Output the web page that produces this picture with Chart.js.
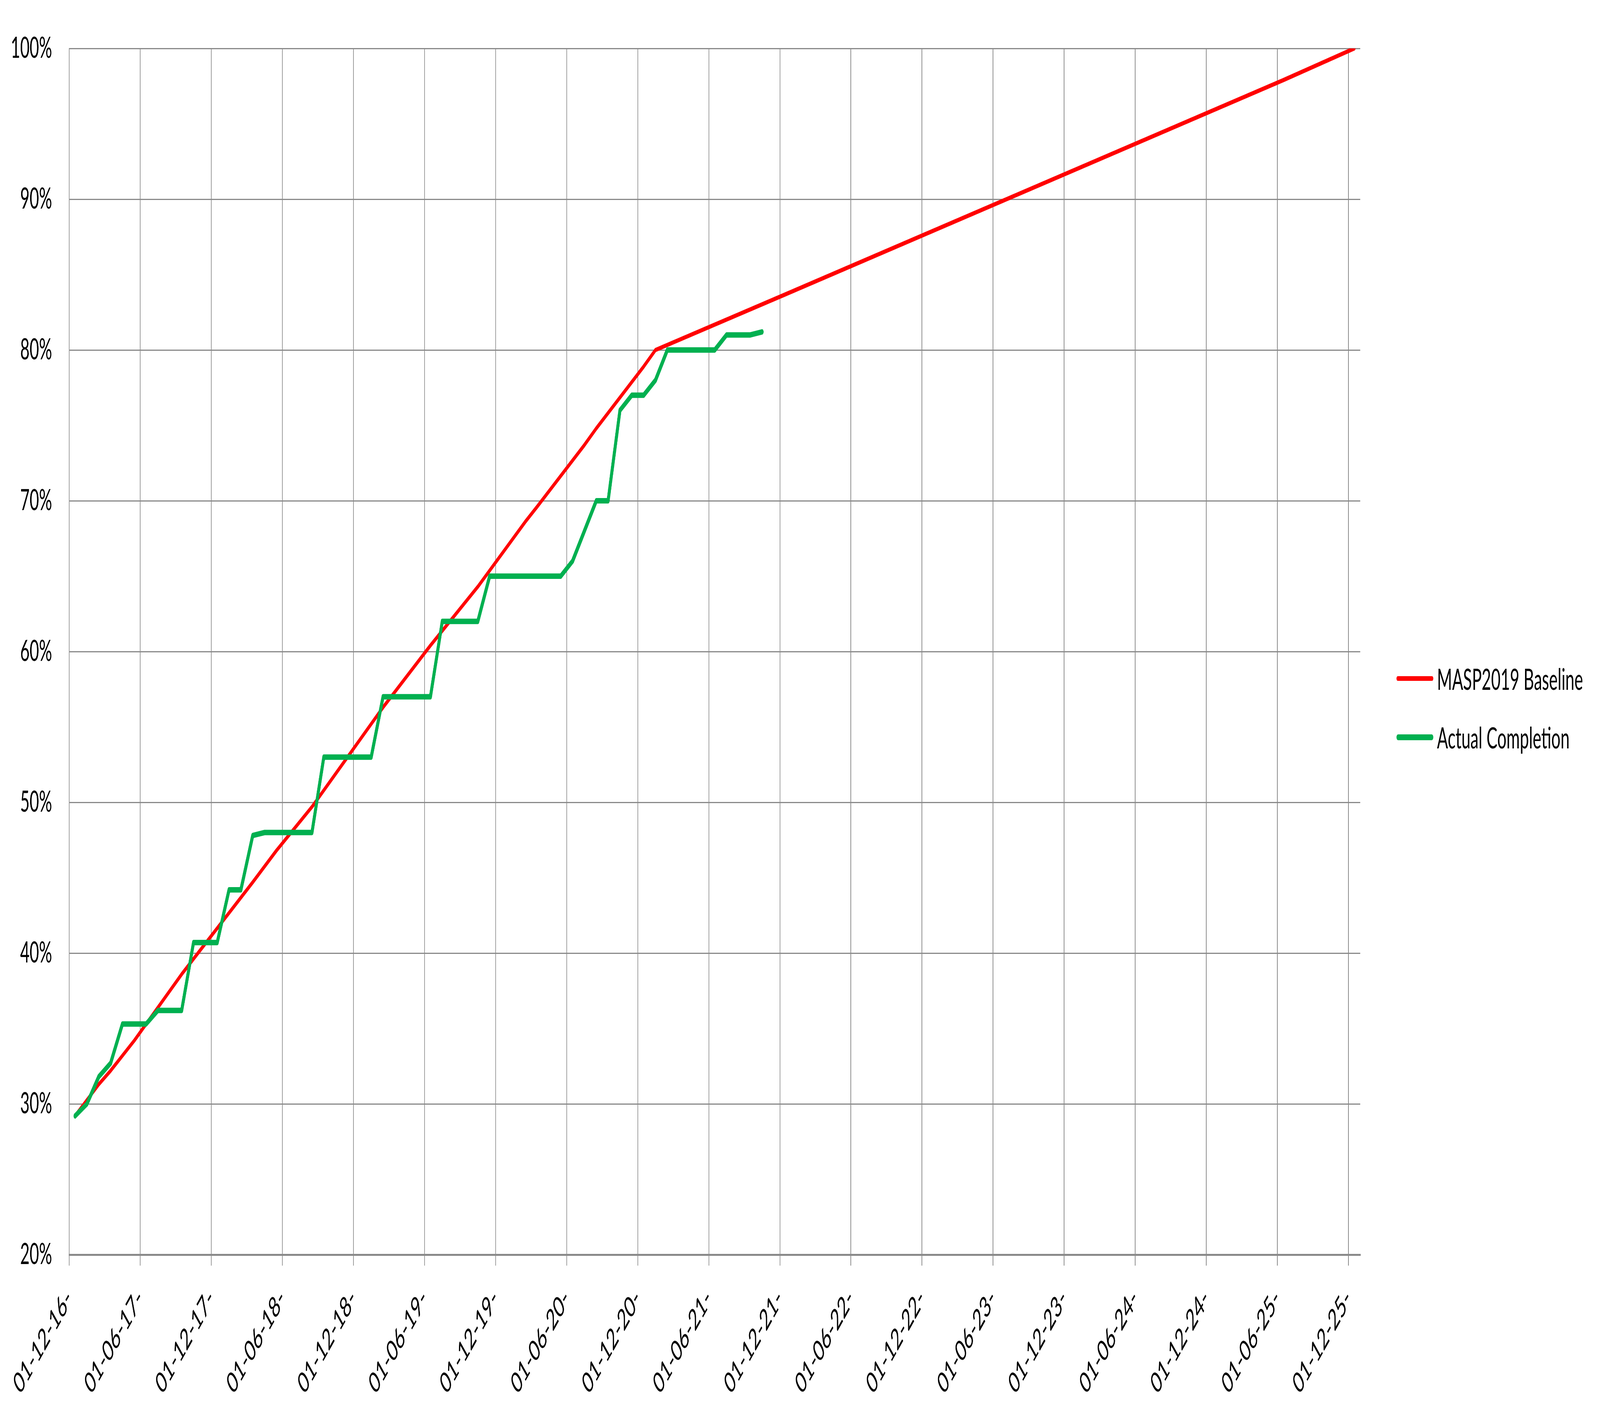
<!DOCTYPE html>
<html>
<head>
<meta charset="utf-8">
<title>MASP2019 Baseline vs Actual Completion</title>
<script src="https://cdn.jsdelivr.net/npm/chart.js"></script>
<style>
  html, body { margin: 0; padding: 0; background: #fff; overflow: hidden; }
  #wrap { position: absolute; left: 0; top: 0; width: 7382px; height: 3625px; transform-origin: 0 0; background: #fff; }
  #legend { position: absolute; left: 6443px; top: 1662px; font-family: Lato, sans-serif; font-size: 75px; color: #000; }
  #legend .item { display: flex; align-items: center; height: 150px; white-space: nowrap; }
  #legend .swatch { display: inline-block; width: 170px; margin-right: 17px; border-radius: 8px; }
</style>
</head>
<body>
<div id="wrap">
  <canvas id="chart"></canvas>
  <div id="legend"></div>
</div>
<script>
// x is counted in months from 01-12-16 (0 = Dec 2016)
const xTickLabels = ["01-12-16-", "01-06-17-", "01-12-17-", "01-06-18-", "01-12-18-", "01-06-19-",
  "01-12-19-", "01-06-20-", "01-12-20-", "01-06-21-", "01-12-21-", "01-06-22-", "01-12-22-",
  "01-06-23-", "01-12-23-", "01-06-24-", "01-12-24-", "01-06-25-", "01-12-25-"];

// MASP2019 baseline (month, %)
const baselineMonths = [0.5, 2.5, 3.5, 5.5, 9.5, 15.5, 17.5, 20.5, 26.5, 30.5, 34.5, 38.5, 39.5,
  43.5, 44.5, 48.5, 49.5, 60.5, 102.5, 108.5];
const baselineValues = [29.2, 31.3, 32.2, 34.2, 38.6, 44.7, 46.8, 49.7, 56.3, 60.4, 64.3, 68.6, 69.6,
  73.7, 74.8, 78.9, 80.0, 83.7, 97.9, 100.0];

// actual completion, one reading per month from Dec 2016, plotted mid-month
const actualValues = [29.2, 30.0, 31.8, 32.7, 35.3, 35.3, 35.3, 36.2, 36.2, 36.2, 40.7, 40.7, 40.7,
  44.2, 44.2, 47.8, 48.0, 48.0, 48.0, 48.0, 48.0, 53.0, 53.0, 53.0, 53.0, 53.0, 57.0, 57.0, 57.0,
  57.0, 57.0, 62.0, 62.0, 62.0, 62.0, 65.0, 65.0, 65.0, 65.0, 65.0, 65.0, 65.0, 66.0, 68.0, 70.0,
  70.0, 76.0, 77.0, 77.0, 78.0, 80.0, 80.0, 80.0, 80.0, 80.0, 81.0, 81.0, 81.0, 81.2];

const seriesNames = ["MASP2019 Baseline", "Actual Completion"];
const seriesColors = ["#FF0000", "#00B050"];
const seriesWidths = [11, 14];

const gridGray = "#898989";
const tickFont = { family: "Lato", size: 75 };

// drawn at 7382 x 3625, then stretched onto whatever window we really get
const W = 7382, H = 3625;
const wrap = document.getElementById("wrap");
const sx = window.innerWidth / W || 1;
const sy = window.innerHeight / H || 1;
if (Math.abs(sx - 1) > 0.001 || Math.abs(sy - 1) > 0.001) {
  wrap.style.transform = `scale(${sx}, ${sy})`;
}

const canvas = document.getElementById("chart");
canvas.width = W;
canvas.height = H;

new Chart(canvas, {
  type: "line",
  data: {
    datasets: [
      {
        label: seriesNames[0],
        data: baselineMonths.map((m, i) => ({ x: m, y: baselineValues[i] })),
        borderColor: seriesColors[0],
        backgroundColor: seriesColors[0],
        borderWidth: seriesWidths[0],
        order: 2
      },
      {
        label: seriesNames[1],
        data: actualValues.map((v, i) => ({ x: i + 0.5, y: v })),
        borderColor: seriesColors[1],
        backgroundColor: seriesColors[1],
        borderWidth: seriesWidths[1],
        order: 1
      }
    ]
  },
  options: {
    responsive: false,
    animation: false,
    devicePixelRatio: 1,
    layout: { padding: { top: 93, right: 1106, bottom: 0, left: 0 } },
    elements: {
      point: { radius: 0, hoverRadius: 0 },
      line: { tension: 0, borderJoinStyle: "round", borderCapStyle: "round" }
    },
    plugins: {
      legend: { display: false },
      tooltip: { enabled: false }
    },
    scales: {
      x: {
        type: "linear",
        min: 0,
        max: 109,
        afterBuildTicks: sc => { sc.ticks = xTickLabels.map((_, i) => ({ value: i * 6 })); },
        afterFit: sc => { sc.height = 413; },
        ticks: {
          callback: (v, i) => xTickLabels[i],
          autoSkip: false,
          minRotation: 45,
          maxRotation: 45,
          padding: 40,
          color: "#000",
          font: tickFont
        },
        grid: { color: gridGray, lineWidth: 3, tickLength: 28 },
        border: { color: gridGray, width: 5 }
      },
      y: {
        min: 20,
        max: 100,
        afterFit: sc => { sc.width = 319; },
        ticks: {
          stepSize: 10,
          callback: v => v + "%",
          padding: 79,
          color: "#000",
          font: tickFont
        },
        grid: { color: gridGray, lineWidth: 3, drawTicks: false },
        border: { color: gridGray, width: 3 }
      }
    }
  }
});

// legend on the right, as in the original
const legend = document.getElementById("legend");
const swatchHeights = [12, 15];
seriesNames.forEach((name, i) => {
  const item = document.createElement("div");
  item.className = "item";
  item.innerHTML = `<span class="swatch" style="height:${swatchHeights[i]}px;background:${seriesColors[i]}"></span>${name}`;
  legend.appendChild(item);
});
</script>
</body>
</html>
